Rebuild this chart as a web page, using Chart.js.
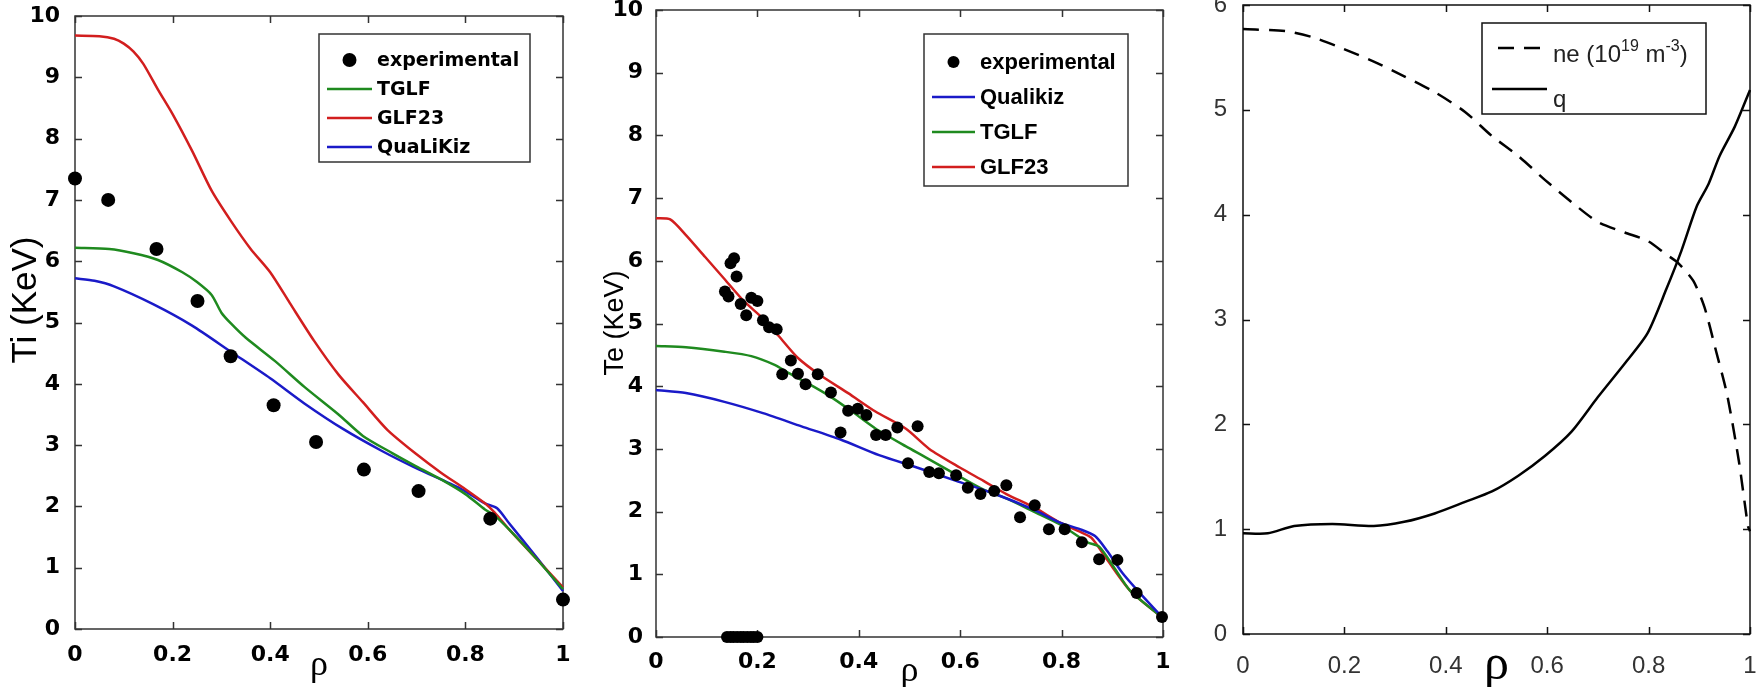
<!DOCTYPE html>
<html><head><meta charset="utf-8">
<script src="https://cdn.jsdelivr.net/npm/chart.js@4"></script>
<style>
html,body{margin:0;padding:0;background:#fff;width:1758px;height:687px;overflow:hidden}
canvas{position:absolute;top:0}
</style></head><body>
<canvas id="c1" width="600" height="687" style="left:0px"></canvas>
<canvas id="c2" width="570" height="687" style="left:600px"></canvas>
<canvas id="c3" width="588" height="687" style="left:1170px"></canvas>
<script>
// ---------- DATA ----------
// Panel 1 : Ti
const tiExpRho = [0, 0.068, 0.167, 0.251, 0.319, 0.407, 0.494, 0.592, 0.704, 0.851, 1.0];
const tiExpVal = [7.35, 7.0, 6.2, 5.35, 4.45, 3.65, 3.05, 2.6, 2.25, 1.8, 0.48];
const tiTglfRho = [0, 0.07, 0.12, 0.17, 0.22, 0.25, 0.28, 0.30, 0.32, 0.35, 0.41, 0.47, 0.54, 0.59, 0.65, 0.70, 0.75, 0.80, 0.84, 0.86, 0.89, 0.945, 1.0];
const tiTglfVal = [6.22, 6.2, 6.13, 6.02, 5.82, 5.66, 5.45, 5.16, 4.98, 4.75, 4.37, 3.95, 3.5, 3.15, 2.87, 2.65, 2.44, 2.2, 1.95, 1.85, 1.62, 1.15, 0.65];
const tiGlfRho = [0, 0.05, 0.08, 0.10, 0.12, 0.14, 0.17, 0.2, 0.24, 0.28, 0.32, 0.36, 0.40, 0.44, 0.49, 0.54, 0.59, 0.64, 0.70, 0.75, 0.80, 0.84, 0.86, 0.89, 0.945, 1.0];
const tiGlfVal = [9.68, 9.67, 9.63, 9.55, 9.42, 9.22, 8.8, 8.4, 7.8, 7.15, 6.65, 6.2, 5.82, 5.32, 4.7, 4.15, 3.7, 3.25, 2.85, 2.55, 2.28, 2.05, 1.9, 1.62, 1.15, 0.68];
const tiQlkRho = [0, 0.04, 0.08, 0.16, 0.24, 0.32, 0.40, 0.47, 0.55, 0.63, 0.70, 0.79, 0.84, 0.865, 0.89, 0.945, 1.0];
const tiQlkVal = [5.72, 5.68, 5.59, 5.3, 4.95, 4.52, 4.09, 3.68, 3.26, 2.9, 2.62, 2.29, 2.05, 1.97, 1.72, 1.18, 0.62];

// Panel 2 : Te
const teExpRho = [0.136, 0.143, 0.147, 0.154, 0.159, 0.167, 0.178, 0.188, 0.2, 0.211, 0.223, 0.238, 0.249, 0.266, 0.28, 0.295, 0.319, 0.345, 0.364, 0.379, 0.398, 0.415, 0.434, 0.453, 0.476, 0.497, 0.516, 0.539, 0.558, 0.592, 0.615, 0.64, 0.667, 0.691, 0.718, 0.747, 0.775, 0.806, 0.84, 0.874, 0.91, 0.948, 0.998,
  0.14, 0.147, 0.153, 0.16, 0.167, 0.173, 0.18, 0.187, 0.193, 0.2];
const teExpVal = [5.51, 5.43, 5.96, 6.04, 5.75, 5.31, 5.13, 5.41, 5.36, 5.05, 4.94, 4.91, 4.19, 4.41, 4.2, 4.03, 4.19, 3.9, 3.26, 3.61, 3.64, 3.54, 3.22, 3.22, 3.34, 2.77, 3.36, 2.63, 2.61, 2.58, 2.38, 2.28, 2.33, 2.42, 1.91, 2.1, 1.72, 1.72, 1.51, 1.24, 1.23, 0.7, 0.32,
  0, 0, 0, 0, 0, 0, 0, 0, 0, 0];
const teQlkRho = [0, 0.059, 0.135, 0.211, 0.287, 0.364, 0.44, 0.516, 0.592, 0.669, 0.745, 0.798, 0.836, 0.866, 0.89, 0.92, 0.95, 1.0];
const teQlkVal = [3.94, 3.89, 3.75, 3.57, 3.36, 3.15, 2.9, 2.7, 2.49, 2.28, 2.03, 1.82, 1.72, 1.61, 1.37, 1.02, 0.74, 0.3];
const teTglfRho = [0, 0.059, 0.135, 0.188, 0.234, 0.264, 0.303, 0.341, 0.386, 0.432, 0.493, 0.531, 0.592, 0.646, 0.691, 0.745, 0.798, 0.851, 0.874, 0.905, 0.935, 1.0];
const teTglfVal = [4.64, 4.62, 4.55, 4.48, 4.34, 4.2, 4.03, 3.85, 3.6, 3.33, 3.04, 2.87, 2.59, 2.35, 2.21, 2.0, 1.79, 1.51, 1.44, 1.09, 0.74, 0.3];
const teGlfRho = [0, 0.028, 0.059, 0.097, 0.135, 0.173, 0.211, 0.242, 0.28, 0.325, 0.379, 0.432, 0.493, 0.539, 0.6, 0.646, 0.691, 0.745, 0.798, 0.836, 0.859, 0.89, 0.935, 1.0];
const teGlfVal = [6.68, 6.66, 6.41, 6.06, 5.71, 5.36, 5.08, 4.8, 4.45, 4.17, 3.89, 3.6, 3.32, 3.0, 2.7, 2.49, 2.28, 2.07, 1.82, 1.68, 1.58, 1.23, 0.74, 0.3];

// Panel 3 : ne and q
const neRho = [0, 0.086, 0.139, 0.199, 0.258, 0.318, 0.378, 0.438, 0.491, 0.543, 0.596, 0.648, 0.7, 0.753, 0.798, 0.835, 0.858, 0.888, 0.91, 0.933, 0.955, 0.978, 0.996, 1.0];
const neVal = [5.77, 5.75, 5.69, 5.58, 5.46, 5.32, 5.17, 4.98, 4.75, 4.56, 4.33, 4.12, 3.93, 3.83, 3.75, 3.62, 3.54, 3.37, 3.12, 2.7, 2.28, 1.65, 1.03, 0.98];
const qRho = [0, 0.049, 0.101, 0.176, 0.258, 0.318, 0.378, 0.438, 0.491, 0.543, 0.596, 0.648, 0.7, 0.753, 0.798, 0.835, 0.865, 0.895, 0.918, 0.94, 0.97, 1.0];
const qVal = [0.96, 0.96, 1.03, 1.05, 1.03, 1.07, 1.15, 1.26, 1.36, 1.51, 1.7, 1.93, 2.26, 2.58, 2.87, 3.29, 3.66, 4.08, 4.29, 4.56, 4.84, 5.19];

const xTicks = [0, 0.2, 0.4, 0.6, 0.8, 1];

// ---------- HELPERS ----------
const pts = (xs, ys) => xs.map((x, i) => ({x, y: ys[i]}));
const RED = '#d21e1e', GREEN = '#1f8a1f', BLUE = '#1a1ac8';
const SANS = "'Liberation Sans', Arial, sans-serif";
const DJB = "'DejaVu Sans', 'Liberation Sans', sans-serif";
const SERIF = "'Liberation Serif', 'Times New Roman', serif";

const framePlugin = {
  id: 'frame',
  beforeDatasetsDraw(chart, args, o) {
    const {ctx, chartArea: a, scales: {x, y}} = chart;
    ctx.save();
    ctx.strokeStyle = o.color; ctx.lineWidth = o.width;
    ctx.strokeRect(a.left, a.top, a.right - a.left, a.bottom - a.top);
    ctx.beginPath();
    const L = o.tick;
    x.ticks.forEach(t => {
      const p = Math.round(x.getPixelForValue(t.value)) + 0.5;
      ctx.moveTo(p, a.bottom); ctx.lineTo(p, a.bottom - L);
      ctx.moveTo(p, a.top); ctx.lineTo(p, a.top + L);
    });
    y.ticks.forEach(t => {
      const p = Math.round(y.getPixelForValue(t.value)) + 0.5;
      ctx.moveTo(a.left, p); ctx.lineTo(a.left + L, p);
      ctx.moveTo(a.right, p); ctx.lineTo(a.right - L, p);
    });
    ctx.stroke();
    ctx.restore();
  },
  afterDraw(chart, args, o) {
    if (!o.yTitle) return;
    const ctx = chart.ctx;
    ctx.save();
    ctx.translate(o.yTitle.x, o.yTitle.y);
    ctx.rotate(-Math.PI / 2);
    ctx.font = o.yTitle.font; ctx.fillStyle = '#000';
    ctx.textAlign = 'center'; ctx.textBaseline = 'middle';
    ctx.fillText(o.yTitle.text, 0, 0);
    ctx.restore();
  }
};

const legendPlugin = {
  id: 'boxLegend',
  afterDatasetsDraw(chart, args, o) {
    if (!o.entries) return;
    const ctx = chart.ctx;
    ctx.save();
    ctx.fillStyle = '#fff';
    ctx.fillRect(o.box[0], o.box[1], o.box[2], o.box[3]);
    ctx.strokeStyle = o.boxColor; ctx.lineWidth = o.boxWidth;
    ctx.strokeRect(o.box[0], o.box[1], o.box[2], o.box[3]);
    o.entries.forEach(e => {
      const ds = chart.data.datasets[e.ds];
      const s0 = e.s0 ?? o.s0, s1 = e.s1 ?? o.s1;
      if (e.kind === 'dot') {
        ctx.fillStyle = ds.pointBackgroundColor;
        ctx.beginPath(); ctx.arc((s0 + s1) / 2, e.y, ds.pointRadius, 0, Math.PI * 2); ctx.fill();
      } else {
        ctx.strokeStyle = ds.borderColor; ctx.lineWidth = ds.borderWidth;
        ctx.setLineDash(ds.borderDash || []);
        ctx.beginPath(); ctx.moveTo(s0, e.y); ctx.lineTo(s1, e.y); ctx.stroke();
        ctx.setLineDash([]);
      }
      ctx.fillStyle = o.textColor;
      ctx.save();
      ctx.translate(o.tx, e.y + o.ty + (e.ty || 0));
      ctx.scale(o.sx, 1);
      ctx.textBaseline = o.baseline;
      const parts = e.rich || [[ds.label, 0]];
      let cx = 0;
      parts.forEach(([t, sup]) => {
        ctx.font = sup ? o.supFont : o.font;
        ctx.fillText(t, cx, sup ? o.supDy : 0);
        cx += ctx.measureText(t).width;
      });
      ctx.restore();
    });
    ctx.restore();
  }
};

function makeChart(id, cfg) {
  const fitY = s => { s.width = cfg.yw; s.paddingTop = 0; s.paddingBottom = 0; s.paddingLeft = 0; s.paddingRight = 0; };
  const fitX = s => { s.height = cfg.xh; s.paddingLeft = 0; s.paddingRight = 0; s.paddingTop = 0; s.paddingBottom = 0; };
  return new Chart(document.getElementById(id), {
    type: 'scatter',
    data: {datasets: cfg.datasets},
    options: {
      responsive: false, animation: false, maintainAspectRatio: false,
      layout: {padding: {left: 0, top: cfg.top, right: cfg.right, bottom: 0}},
      plugins: {legend: {display: false}, tooltip: {enabled: false},
        frame: cfg.frame, boxLegend: cfg.legend},
      scales: {
        x: {type: 'linear', min: 0, max: 1, afterFit: fitX,
          afterBuildTicks: s => { s.ticks = xTicks.map(v => ({value: v})); },
          grid: {display: false}, border: {display: false},
          ticks: {font: cfg.tickFont, color: cfg.tickColor, padding: cfg.xpad, maxRotation: 0, autoSkip: false,
            callback: v => String(Number(v.toFixed(1)))},
          title: {display: true, text: 'ρ', font: cfg.xTitleFont, color: '#000', padding: {top: 0, bottom: cfg.xTitlePad}}},
        y: {type: 'linear', min: 0, max: cfg.ymax, afterFit: fitY,
          ticks: {stepSize: 1, font: cfg.tickFont, color: cfg.tickColor, padding: cfg.ypad},
          grid: {display: false}, border: {display: false},
          title: {display: false}}
      }
    },
    plugins: [framePlugin, legendPlugin]
  });
}

const line = (label, xs, ys, color, w, dash) => ({label, data: pts(xs, ys), showLine: true, borderColor: color,
  borderWidth: w, borderDash: dash || [], pointRadius: 0, fill: false, tension: 0.25, clip: false});
const dots = (label, xs, ys, r) => ({label, data: pts(xs, ys), showLine: false, pointRadius: r,
  pointBackgroundColor: '#000', pointBorderColor: '#000', pointBorderWidth: 0, clip: false});

const boldTick = {family: DJB, size: 22, weight: 'bold', lineHeight: 1.2};

// Panel 1
makeChart('c1', {
  yw: 75, xh: 687 - 629, top: 16, right: 600 - 563, ymax: 10,
  tickFont: boldTick, tickColor: '#000', xpad: 5, ypad: 7,
  xTitleFont: {family: SERIF, size: 36, lineHeight: 1}, xTitlePad: 3,
  frame: {color: '#333', width: 1.5, tick: 7,
    yTitle: {text: 'Ti (KeV)', x: 26, y: 300, font: '35px ' + SANS}},
  legend: {box: [319, 34, 211, 128], boxColor: '#333', boxWidth: 1.5, s0: 327, s1: 372, tx: 377, ty: 1,
    sx: 1, baseline: 'middle', font: 'bold 19px ' + DJB, textColor: '#000',
    entries: [{ds: 0, kind: 'dot', y: 60}, {ds: 1, y: 89}, {ds: 2, y: 118}, {ds: 3, y: 147}]},
  datasets: [
    dots('experimental', tiExpRho, tiExpVal, 7),
    line('TGLF', tiTglfRho, tiTglfVal, GREEN, 2.5),
    line('GLF23', tiGlfRho, tiGlfVal, RED, 2.5),
    line('QuaLiKiz', tiQlkRho, tiQlkVal, BLUE, 2.5)
  ]
});

// Panel 2
makeChart('c2', {
  yw: 56, xh: 687 - 637, top: 10, right: 570 - 563, ymax: 10,
  tickFont: boldTick, tickColor: '#000', xpad: 4, ypad: 5,
  xTitleFont: {family: SERIF, size: 36, lineHeight: 1}, xTitlePad: -3,
  frame: {color: '#333', width: 1.5, tick: 7,
    yTitle: {text: 'Te (KeV)', x: 16, y: 323, font: '27px ' + SANS}},
  legend: {box: [324, 34, 204, 152], boxColor: '#333', boxWidth: 1.5, s0: 332, s1: 375, tx: 380, ty: 1,
    sx: 1, baseline: 'middle', font: 'bold 22px ' + SANS, textColor: '#000',
    entries: [{ds: 0, kind: 'dot', y: 62}, {ds: 1, y: 97}, {ds: 2, y: 132}, {ds: 3, y: 167}]},
  datasets: [
    dots('experimental', teExpRho, teExpVal, 6),
    line('Qualikiz', teQlkRho, teQlkVal, BLUE, 2.5),
    line('TGLF', teTglfRho, teTglfVal, GREEN, 2.5),
    line('GLF23', teGlfRho, teGlfVal, RED, 2.5)
  ]
});

// Panel 3
makeChart('c3', {
  yw: 73, xh: 687 - 634, top: 5, right: 588 - 580, ymax: 6,
  tickFont: {family: SANS, size: 24, lineHeight: 1.2}, tickColor: '#333', xpad: 10, ypad: 8,
  xTitleFont: {family: SERIF, size: 50, lineHeight: 1}, xTitlePad: -4,
  frame: {color: '#111', width: 1.5, tick: 7},
  legend: {box: [312, 23, 224, 91], boxColor: '#111', boxWidth: 1.5, s0: 322, s1: 377, tx: 383, ty: 14,
    sx: 1, baseline: 'alphabetic', font: '24px ' + SANS, supFont: '16px ' + SANS, supDy: -11, textColor: '#222',
    entries: [{ds: 0, y: 48, s0: 328, s1: 370, rich: [['ne (10', 0], ['19', 1], [' m', 0], ['-3', 1], [')', 0]]},
              {ds: 1, y: 89, ty: 4}]},
  datasets: [
    line('ne (10^19 m^-3)', neRho, neVal, '#000', 2.5, [16, 10]),
    line('q', qRho, qVal, '#000', 2.5)
  ]
});
</script>
</body></html>
